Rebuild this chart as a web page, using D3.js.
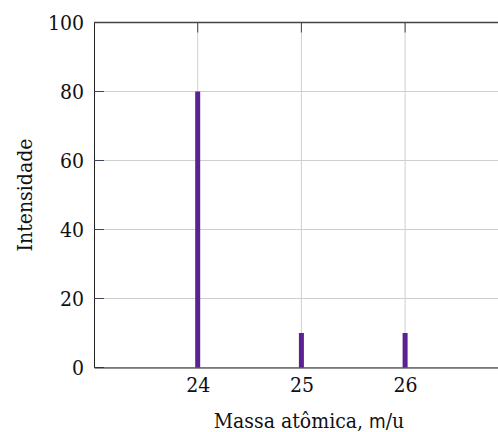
<!DOCTYPE html>
<html>
<head>
<meta charset="utf-8">
<script src="https://cdn.jsdelivr.net/npm/d3@7"></script>
<style>
  html, body { margin: 0; padding: 0; background: #fff; overflow: hidden; }
  svg { display: block; }
  text { font-family: "DejaVu Serif Condensed", "DejaVu Serif", serif; font-stretch: condensed; fill: #111; }
</style>
</head>
<body>
<div id="chart"></div>
<script>
// massa atômica (m/u) e intensidade relativa
const masses = [24, 25, 26];
const intensities = [80, 10, 10];
const xTicks = [24, 25, 26];
const yTicks = [0, 20, 40, 60, 80, 100];

const width = 498, height = 432;
const margin = { left: 94, top: 22, bottom: 64 };
const fontSize = '21px';

const x = d3.scaleLinear().domain([23, 27]).range([margin.left, margin.left + 4 * 103.7]);
const y = d3.scaleLinear().domain([0, 100]).range([height - margin.bottom - 0.5, margin.top + 0.5]);

const svg = d3.select('#chart').append('svg')
    .attr('width', width)
    .attr('height', height);

// grade
const grid = svg.append('g').attr('stroke', '#cfcfcf').attr('stroke-width', 1);
xTicks.forEach(t => {
    grid.append('line').attr('x1', x(t)).attr('x2', x(t)).attr('y1', y(0)).attr('y2', y(100));
});
yTicks.forEach(t => {
    grid.append('line').attr('x1', x(23)).attr('x2', x(27)).attr('y1', y(t)).attr('y2', y(t));
});

// barras
svg.append('g').selectAll('rect')
    .data(masses)
    .enter().append('rect')
    .attr('x', (d, i) => x(d) - 2.5)
    .attr('width', 5)
    .attr('y', (d, i) => y(intensities[i]))
    .attr('height', (d, i) => y(0) - y(intensities[i]))
    .attr('fill', '#5a2192');

// eixos
const yAxis = d3.axisLeft(y).tickValues(yTicks).tickSize(0).tickPadding(10);
const yAxisG = svg.append('g').attr('transform', `translate(${x(23)},0)`).call(yAxis);
yAxisG.select('.domain').attr('stroke', '#222');
yAxisG.selectAll('text').style('font-size', fontSize);

// marcas internas do eixo y
svg.append('g').selectAll('line')
    .data(yTicks)
    .enter().append('line')
    .attr('x1', x(23)).attr('x2', x(23) + 10)
    .attr('y1', d => y(d)).attr('y2', d => y(d))
    .attr('stroke', '#3b4758');

const xAxis = d3.axisBottom(x).tickValues(xTicks).tickSize(0).tickPadding(10).tickFormat(d3.format('d'));
const xAxisG = svg.append('g').attr('transform', `translate(0,${y(0)})`).call(xAxis);
xAxisG.select('.domain').attr('stroke', '#222');
xAxisG.selectAll('text').style('font-size', fontSize);

// borda superior
svg.append('line')
    .attr('x1', x(23)).attr('x2', x(27))
    .attr('y1', y(100)).attr('y2', y(100))
    .attr('stroke', '#444').attr('stroke-width', 1.3);
svg.append('g').selectAll('line')
    .data(xTicks)
    .enter().append('line')
    .attr('x1', d => x(d)).attr('x2', d => x(d))
    .attr('y1', y(100)).attr('y2', y(100) + 10)
    .attr('stroke', '#3b4758');

// rótulos
svg.append('text')
    .attr('transform', `translate(32,${(y(0) + y(100)) / 2}) rotate(-90)`)
    .attr('text-anchor', 'middle')
    .style('font-size', fontSize)
    .text('Intensidade');

const xl = svg.append('text')
    .attr('x', 309).attr('y', 428)
    .attr('text-anchor', 'middle')
    .style('font-size', fontSize);
xl.append('tspan').text('Massa atômica, ');
xl.append('tspan').style('font-family', '"DejaVu Sans", sans-serif').style('font-size', '19px').text('m');
xl.append('tspan').text('/u');
</script>
</body>
</html>
